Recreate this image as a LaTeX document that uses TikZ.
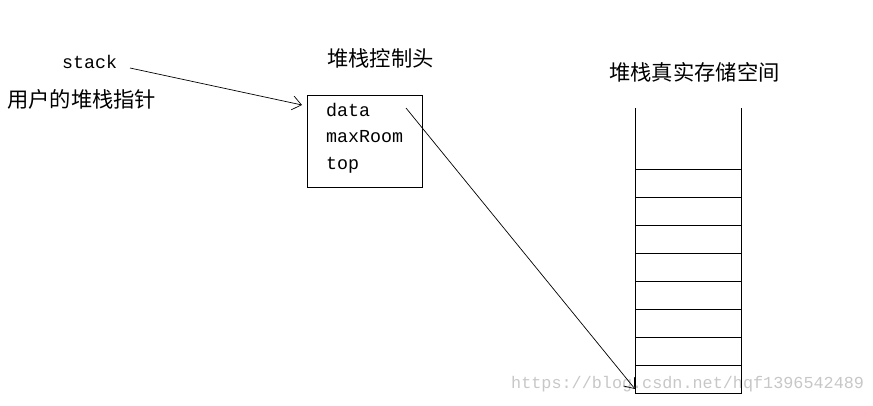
\documentclass[tikz,border=0pt]{standalone}
\usepackage{fontspec}
\setmonofont{Liberation Mono}
\newfontfamily\cjk{Noto Sans CJK SC}
\usetikzlibrary{arrows.meta}
\begin{document}
\begin{tikzpicture}[x=1pt,y=-1pt,
  cjklabel/.style={font=\cjk\fontsize{21.3}{24}\selectfont, inner sep=0pt, anchor=west},
  monolabel/.style={font=\ttfamily\fontsize{18.3}{20}\selectfont, inner sep=0pt, anchor=west},
  wmark/.style={font=\ttfamily\fontsize{16.8}{20}\selectfont, inner sep=0pt, anchor=west, text=black!22},
  thinline/.style={line width=0.9pt, black},
  ptr/.style={line width=0.7pt, black, -{Straight Barb[length=9pt,width=14pt,line width=0.7pt]}}]
\useasboundingbox (0,0) rectangle (873,405);
% watermark
\node[wmark] (wm) at (511,384) {https://blog.csdn.net/hqf1396542489};
% labels
\node[monolabel] (stack) at (62,62) {stack};
\node[cjklabel] (user) at (7,99) {用户的堆栈指针};
\node[cjklabel] (headtitle) at (327,58) {堆栈控制头};
\node[cjklabel] (storetitle) at (609,72) {堆栈真实存储空间};
% control head box
\node[draw, thinline, minimum width=115pt, minimum height=92pt, inner sep=0pt] (head) at (364.5,141) {};
\node[monolabel] (data) at (326,110) {data};
\node[monolabel] (maxroom) at (326,137) {maxRoom};
\node[monolabel] (top) at (326,165) {top};
% storage
\draw[thinline] (635,108) -- (635,393) -- (741,393) -- (741,108);
\foreach \k in {0,...,7} {
  \draw[thinline] (635,169+28*\k) -- (741,169+28*\k);
}
\coordinate (stackstart) at (130,68);
\coordinate (headin) at (302,105);
\coordinate (datastart) at (406,108);
\coordinate (storebottom) at (635,389);
% connectors
\draw[ptr] (stackstart) -- (headin);
\draw[ptr] (datastart) -- (storebottom);
\end{tikzpicture}
\end{document}
